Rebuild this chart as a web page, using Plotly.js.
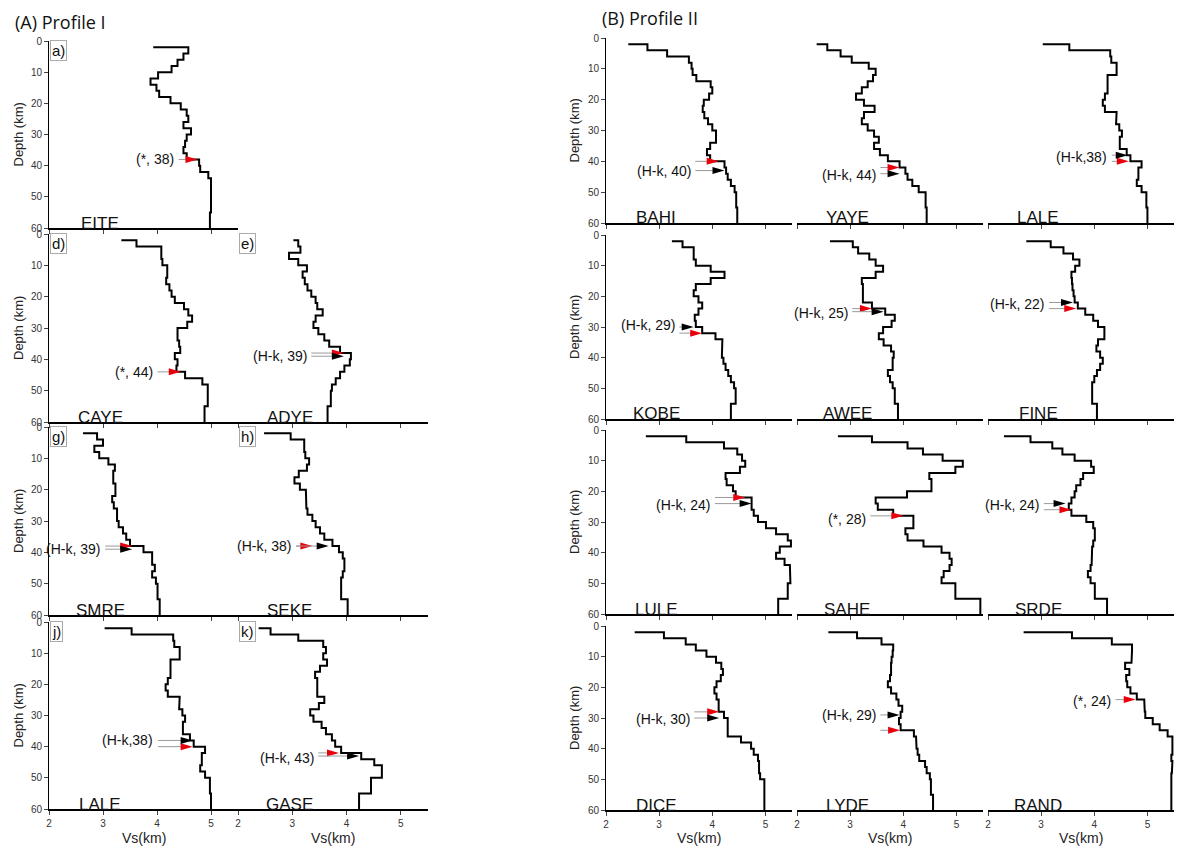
<!DOCTYPE html>
<html>
<head>
<meta charset="utf-8">
<script src="https://cdn.plot.ly/plotly-3.0.1.min.js"></script>
<style>
  html, body { margin: 0; padding: 0; background: #fff; }
  #chart { width: 1179px; height: 848px; }
</style>
</head>
<body>
<div id="chart"></div>
<script>
// Layer tops (km) of the shear-velocity models; the last layer runs to MAX_DEPTH.
const LAYER_TOP = [2, 4, 6, 8, 10, 12, 14, 16, 18, 20, 22, 24, 26, 28, 30, 32, 34, 36, 38, 40, 42, 44, 46, 48, 50, 55];
const MAX_DEPTH = 60;
const VS_TICKS = [2, 3, 4, 5];
const DEPTH_TICKS = [0, 10, 20, 30, 40, 50, 60];

// Vs (km/s): first value starts the surface step at 2 km, then one value per layer.
const EITE = [3.93, 4.58, 4.49, 4.38, 4.27, 4.02, 3.88, 3.99, 4.04, 4.25, 4.44, 4.55, 4.58, 4.49, 4.63, 4.55, 4.52, 4.49, 4.55, 4.78, 4.80, 4.95, 5.00, 5.00, 5.00, 5.00, 4.98];
const CAYE = [3.34, 3.62, 4.08, 4.08, 4.10, 4.19, 4.19, 4.17, 4.23, 4.27, 4.33, 4.50, 4.58, 4.65, 4.56, 4.38, 4.38, 4.41, 4.43, 4.33, 4.38, 4.36, 4.52, 4.84, 4.94, 4.94, 4.88];
const ADYE = [3.02, 3.11, 3.15, 2.94, 3.11, 3.27, 3.19, 3.23, 3.28, 3.35, 3.43, 3.46, 3.56, 3.43, 3.39, 3.48, 3.59, 3.68, 3.88, 4.08, 4.06, 3.96, 3.88, 3.80, 3.73, 3.71, 3.65];
const SMRE = [2.63, 2.89, 3.00, 2.84, 2.93, 3.10, 3.22, 3.19, 3.19, 3.23, 3.23, 3.17, 3.20, 3.26, 3.26, 3.29, 3.37, 3.43, 3.50, 3.75, 3.91, 3.91, 3.96, 3.91, 3.98, 4.01, 4.05];
const SEKE = [2.48, 2.97, 3.22, 3.22, 3.24, 3.31, 3.27, 3.12, 3.04, 3.14, 3.25, 3.25, 3.26, 3.28, 3.37, 3.43, 3.51, 3.59, 3.74, 3.86, 3.93, 3.96, 3.96, 3.93, 3.90, 3.90, 4.02];
const LALE = [3.03, 3.53, 4.30, 4.32, 4.42, 4.42, 4.25, 4.25, 4.25, 4.20, 4.16, 4.20, 4.42, 4.41, 4.47, 4.52, 4.48, 4.48, 4.61, 4.68, 4.89, 4.83, 4.83, 4.80, 4.89, 4.98, 5.00];
const GASE = [2.38, 2.60, 3.11, 3.57, 3.62, 3.57, 3.64, 3.51, 3.42, 3.46, 3.46, 3.46, 3.59, 3.49, 3.33, 3.39, 3.54, 3.62, 3.73, 3.79, 3.90, 4.27, 4.51, 4.65, 4.65, 4.45, 4.23];
const BAHI = [2.42, 2.78, 3.15, 3.56, 3.61, 3.63, 3.70, 3.97, 4.00, 3.94, 3.84, 3.82, 3.85, 3.92, 4.00, 4.07, 4.07, 3.96, 3.90, 3.96, 4.23, 4.26, 4.29, 4.35, 4.42, 4.45, 4.47];
const YAYE = [2.37, 2.57, 2.82, 3.03, 3.35, 3.48, 3.43, 3.33, 3.22, 3.11, 3.26, 3.46, 3.26, 3.22, 3.33, 3.45, 3.54, 3.45, 3.56, 3.71, 3.93, 4.04, 4.08, 4.17, 4.29, 4.42, 4.44];
const KOBE = [3.24, 3.44, 3.65, 3.65, 3.69, 3.97, 4.23, 3.97, 3.69, 3.65, 3.74, 3.81, 3.74, 3.67, 3.69, 3.81, 4.06, 4.19, 4.19, 4.18, 4.21, 4.25, 4.30, 4.35, 4.41, 4.44, 4.35];
const AWEE = [2.62, 3.05, 3.15, 3.36, 3.48, 3.62, 3.48, 3.22, 3.24, 3.24, 3.24, 3.41, 3.66, 3.84, 3.78, 3.62, 3.54, 3.63, 3.77, 3.82, 3.80, 3.80, 3.71, 3.75, 3.80, 3.84, 3.90];
const FINE = [2.72, 3.18, 3.42, 3.60, 3.72, 3.64, 3.57, 3.58, 3.59, 3.61, 3.63, 3.69, 3.83, 3.98, 4.07, 4.19, 4.19, 4.07, 4.04, 4.11, 4.16, 4.11, 4.05, 4.00, 3.96, 3.96, 4.05];
const LULE = [2.75, 3.51, 4.22, 4.47, 4.56, 4.62, 4.52, 4.25, 4.27, 4.39, 4.44, 4.74, 4.74, 4.78, 4.86, 5.01, 5.20, 5.42, 5.48, 5.27, 5.20, 5.36, 5.46, 5.47, 5.47, 5.42, 5.24];
const SAHE = [2.77, 3.41, 4.08, 4.37, 4.74, 5.12, 4.98, 4.49, 4.53, 4.53, 4.07, 3.48, 3.52, 3.81, 4.19, 4.19, 4.04, 4.08, 4.38, 4.72, 4.87, 4.91, 4.87, 4.76, 4.72, 4.98, 5.45];
const SRDE = [2.30, 2.80, 3.21, 3.40, 3.63, 3.94, 3.99, 3.79, 3.74, 3.66, 3.63, 3.57, 3.52, 3.57, 3.85, 3.98, 4.01, 4.01, 3.98, 3.96, 3.96, 3.95, 3.93, 3.88, 3.93, 4.01, 4.24];
const DICE = [2.54, 3.09, 3.50, 3.69, 3.89, 4.07, 4.17, 4.20, 4.16, 4.08, 4.04, 4.08, 4.12, 4.12, 4.22, 4.29, 4.29, 4.29, 4.54, 4.73, 4.78, 4.86, 4.88, 4.88, 4.90, 4.98, 4.98];
const LYDE = [2.59, 3.13, 3.59, 3.81, 3.80, 3.78, 3.77, 3.77, 3.75, 3.71, 3.77, 3.87, 3.91, 3.98, 3.95, 3.92, 3.95, 4.20, 4.24, 4.25, 4.27, 4.30, 4.41, 4.44, 4.50, 4.52, 4.56];
const RAND = [2.67, 3.58, 4.33, 4.71, 4.71, 4.70, 4.58, 4.66, 4.60, 4.62, 4.68, 4.80, 4.94, 4.95, 4.96, 5.10, 5.23, 5.38, 5.47, 5.46, 5.47, 5.45, 5.47, 5.46, 5.45, 5.45, 5.45];

// Panels: Profile I (7 stations) then Profile II (12 stations).
const STATION_NAMES = ['EITE', 'CAYE', 'ADYE', 'SMRE', 'SEKE', 'LALE', 'GASE',
  'BAHI', 'YAYE', 'LALE', 'KOBE', 'AWEE', 'FINE', 'LULE', 'SAHE', 'SRDE', 'DICE', 'LYDE', 'RAND'];
const PROFILES = [EITE, CAYE, ADYE, SMRE, SEKE, LALE, GASE,
  BAHI, YAYE, LALE, KOBE, AWEE, FINE, LULE, SAHE, SRDE, DICE, LYDE, RAND];
const PANEL_TAGS = ['a)', 'd)', 'e)', 'g)', 'h)', 'j)', 'k)', '', '', '', '', '', '', '', '', '', '', '', ''];

// Moho picks: label, label depth, label right end (Vs), red pick and H-k pick.
const NOTE_TEXT = ['(*, 38)', '(*, 44)', '(H-k, 39)', '(H-k, 39)', '(H-k, 38)', '(H-k,38)', '(H-k, 43)',
  '(H-k, 40)', '(H-k, 44)', '(H-k,38)', '(H-k, 29)', '(H-k, 25)', '(H-k, 22)', '(H-k, 24)', '(*, 28)', '(H-k, 24)', '(H-k, 30)', '(H-k, 29)', '(*, 24)'];
const NOTE_DEPTH = [38, 44, 39, 39, 38, 38, 43.5, 43, 44.5, 38.5, 29.5, 25.5, 22.5, 24.5, 29, 24.5, 30.2, 29, 24.5];
const NOTE_VS = [4.35, 3.96, 3.30, 2.99, 3.02, 3.97, 3.43, 3.63, 3.52, 4.28, 3.33, 2.99, 3.10, 4.00, 3.33, 3.00, 3.61, 3.52, 4.35];
const RED_DEPTH = [38, 44, 38, 38, 38, 40, 42, 40, 42, 40, 32, 24, 24, 22, 28, 26, 28, 34, 24];
const RED_VS = [4.75, 4.44, 3.95, 3.54, 3.37, 4.66, 3.86, 4.12, 3.93, 4.65, 3.81, 3.41, 3.66, 4.62, 4.00, 3.57, 4.13, 3.94, 4.78];
const HK_DEPTH = [null, null, 39, 39, 38, 38, 43, 43, 44, 38, 30, 25, 22, 24, null, 24, 30, 29, null];
const HK_VS = [null, null, 3.95, 3.54, 3.67, 4.66, 4.23, 4.23, 3.93, 4.63, 3.65, 3.63, 3.60, 4.74, null, 3.46, 4.13, 3.93, null];

// ---- page geometry (pixels) ----
const W = 1179, H = 848;
const GROUP_COLS = {
  A: [[49, 238], [238, 428]],
  B: [[606, 792], [797, 983], [988, 1174]]
};
const GROUP_ROWS = {
  A: [[41, 228], [234, 422], [427, 615], [622, 809]],
  B: [[38, 223], [235, 419], [430, 614], [626, 810]]
};
// [group, column, row] for each panel
const PANEL_SLOT = [
  ['A', 0, 0], ['A', 0, 1], ['A', 1, 1], ['A', 0, 2], ['A', 1, 2], ['A', 0, 3], ['A', 1, 3],
  ['B', 0, 0], ['B', 1, 0], ['B', 2, 0], ['B', 0, 1], ['B', 1, 1], ['B', 2, 1],
  ['B', 0, 2], ['B', 1, 2], ['B', 2, 2], ['B', 0, 3], ['B', 1, 3], ['B', 2, 3]
];

const FONT = 'Liberation Sans, Arial, Helvetica, sans-serif';
const px = v => v / W;
const py = v => 1 - v / H;

function stepLine(v) {
  const xs = [v[0]], ys = [LAYER_TOP[0]];
  for (let i = 1; i < v.length; i++) {
    const top = LAYER_TOP[i - 1];
    const bot = i < LAYER_TOP.length ? LAYER_TOP[i] : MAX_DEPTH;
    xs.push(v[i], v[i]);
    ys.push(top, bot);
  }
  return { xs, ys };
}

const traces = [];
const layout = {
  width: W, height: H,
  margin: { l: 0, r: 0, t: 0, b: 0 },
  paper_bgcolor: '#fff', plot_bgcolor: 'rgba(0,0,0,0)',
  showlegend: false,
  font: { family: FONT, color: '#111' },
  annotations: [], shapes: []
};

PROFILES.forEach((prof, i) => {
  const k = i + 1;
  const xa = 'x' + k, ya = 'y' + k;
  const [grp, col, row] = PANEL_SLOT[i];
  const [x0, x1] = GROUP_COLS[grp][col];
  const [y0, y1] = GROUP_ROWS[grp][row];
  const bottomRow = row === 3;
  const firstCol = col === 0;

  const s = stepLine(prof);
  traces.push({
    x: s.xs, y: s.ys, xaxis: xa, yaxis: ya, type: 'scatter', mode: 'lines',
    line: { color: '#000', width: 2 }, hoverinfo: 'skip'
  });

  layout['xaxis' + k] = {
    domain: [px(x0), px(x1)], anchor: ya, range: [2, 5.5],
    tickmode: 'array', tickvals: VS_TICKS, ticks: 'outside', ticklen: 4, tickwidth: 1, tickcolor: '#444',
    showline: true, linecolor: '#000', linewidth: 2,
    showticklabels: bottomRow, tickfont: { size: 10, color: '#333', family: FONT },
    showgrid: false, zeroline: false, fixedrange: true
  };
  layout['yaxis' + k] = {
    domain: [py(y1), py(y0)], anchor: xa, range: [MAX_DEPTH, 0],
    tickmode: 'array', tickvals: DEPTH_TICKS, ticks: firstCol ? 'outside' : '', ticklen: 4, tickwidth: 1, tickcolor: '#444',
    showline: firstCol, linecolor: '#000', linewidth: 1,
    showticklabels: firstCol, tickfont: { size: 10, color: '#333', family: FONT },
    showgrid: false, zeroline: false, fixedrange: true
  };

  // station name sitting on the bottom axis
  layout.annotations.push({
    xref: xa, yref: ya, x: 2.95, y: MAX_DEPTH, xanchor: 'center', yanchor: 'bottom', yshift: -6.5,
    text: STATION_NAMES[i], showarrow: false, font: { size: 17, color: '#111', family: FONT }
  });

  // panel tag in a framed box
  if (PANEL_TAGS[i]) {
    layout.annotations.push({
      xref: 'paper', yref: 'paper', x: px(x0 + 1), y: py(y0 - 1), xanchor: 'left', yanchor: 'top',
      text: PANEL_TAGS[i], showarrow: false, font: { size: 15, color: '#111', family: FONT },
      bordercolor: '#aaa', borderwidth: 1, borderpad: 1, bgcolor: '#fff'
    });
  }

  // Moho pick label with leader lines and arrowheads
  layout.annotations.push({
    xref: xa, yref: ya, x: NOTE_VS[i], y: NOTE_DEPTH[i], xanchor: 'right', yanchor: 'middle',
    text: NOTE_TEXT[i], showarrow: false, font: { size: 14, color: '#111', family: FONT }
  });
  const picks = [[RED_DEPTH[i], RED_VS[i], '#e8000b']];
  if (HK_DEPTH[i] !== null) picks.push([HK_DEPTH[i], HK_VS[i], '#000']);
  picks.forEach(([d, v, c]) => {
    layout.shapes.push({
      type: 'line', xref: xa, yref: ya, x0: NOTE_VS[i] + 0.05, x1: v - 0.15, y0: d, y1: d,
      line: { color: '#9a9a9a', width: 1 }
    });
    layout.shapes.push({
      type: 'path', xref: xa, yref: ya, xsizemode: 'pixel', ysizemode: 'pixel',
      xanchor: v, yanchor: d, path: 'M-12,3.5L0,0L-12,-3.5Z',
      fillcolor: c, line: { width: 0 }
    });
  });

  // axis titles
  if (firstCol) {
    layout.annotations.push({
      xref: 'paper', yref: 'paper', x: px(grp === 'A' ? 18 : 574), y: py((y0 + y1) / 2),
      xanchor: 'center', yanchor: 'middle', textangle: -90, text: 'Depth (km)', showarrow: false,
      font: { size: 13, color: '#222', family: FONT }
    });
  }
  if (bottomRow) {
    layout.annotations.push({
      xref: 'paper', yref: 'paper', x: px((x0 + x1) / 2), y: py(838),
      xanchor: 'center', yanchor: 'middle', text: 'Vs(km)', showarrow: false,
      font: { size: 14, color: '#222', family: FONT }
    });
  }
});

// group headings
layout.annotations.push({
  xref: 'paper', yref: 'paper', x: px(13), y: py(22), xanchor: 'left', yanchor: 'middle',
  text: '(A) Profile I', showarrow: false, font: { size: 18, color: '#111', family: 'Open Sans, sans-serif' }
});
layout.annotations.push({
  xref: 'paper', yref: 'paper', x: px(600), y: py(18), xanchor: 'left', yanchor: 'middle',
  text: '(B) Profile II', showarrow: false, font: { size: 18, color: '#111', family: 'Open Sans, sans-serif' }
});

Plotly.newPlot('chart', traces, layout, { displayModeBar: false, staticPlot: true });
</script>
</body>
</html>
